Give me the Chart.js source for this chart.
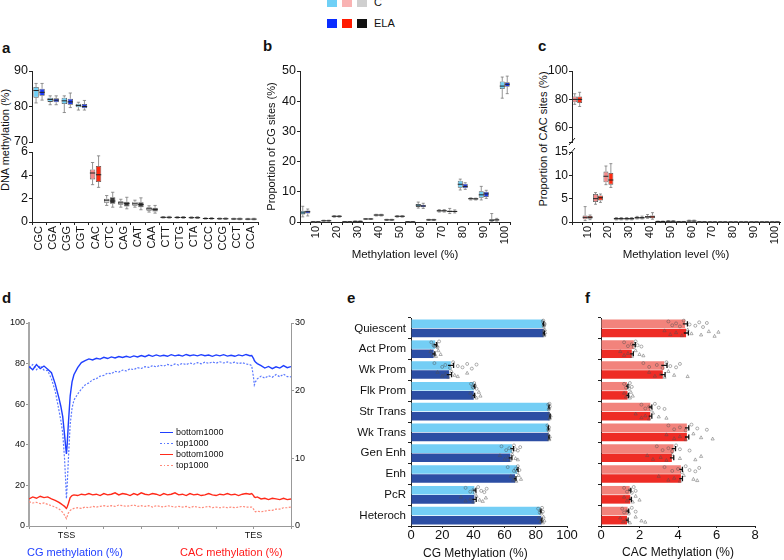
<!DOCTYPE html>
<html lang="en">
<head>
<meta charset="UTF-8">
<title>DNA methylation figure</title>
<script src="https://cdn.jsdelivr.net/npm/chart.js"></script>
<style>
  body { margin: 0; width: 784px; height: 560px; position: relative; overflow: hidden; background: #fff;
         font-family: "Liberation Sans", Arial, sans-serif; color: #111; }
  canvas { position: absolute; }
  .letter { position: absolute; font-weight: bold; font-size: 15px; line-height: 15px; }
  .vt { position: absolute; transform: translate(-50%, -50%) rotate(-90deg); white-space: nowrap; font-size: 11px; }
  .txt { position: absolute; white-space: nowrap; }
  .key { position: absolute; width: 10px; height: 9px; }
  .dl { position: absolute; left: 160px; font-size: 9px; line-height: 11px; height: 11px; white-space: nowrap; }
  .dl span { display: inline-block; width: 13px; height: 1.5px; vertical-align: middle; margin-right: 3px; }
</style>
</head>
<body>

<!-- legend C / ELA -->
<div class="key" style="left:327px;top:-2px;background:#6fd0f6"></div>
<div class="key" style="left:342px;top:-2px;background:#f9b3b3"></div>
<div class="key" style="left:357px;top:-2px;background:#cfcfcf"></div>
<div class="txt" style="left:374px;top:-4px;font-size:11px">C</div>
<div class="key" style="left:327px;top:19px;background:#0a2cff"></div>
<div class="key" style="left:342px;top:19px;background:#ff1a00"></div>
<div class="key" style="left:357px;top:19px;background:#111"></div>
<div class="txt" style="left:374px;top:17px;font-size:11px">ELA</div>

<div class="letter" style="left:2px;top:40px">a</div>
<div class="letter" style="left:263px;top:38px">b</div>
<div class="letter" style="left:538px;top:38px">c</div>
<div class="letter" style="left:2px;top:290px">d</div>
<div class="letter" style="left:347px;top:290px">e</div>
<div class="letter" style="left:585px;top:290px">f</div>

<div class="vt" style="left:5px;top:140px">DNA methylation (%)</div>
<div class="vt" style="left:543px;top:139px">Proportion of CAC sites (%)</div>

<canvas id="aTop" width="262" height="88" style="left:0;top:60px"></canvas>
<canvas id="aBot" width="262" height="118" style="left:0;top:146px"></canvas>
<canvas id="bChart" width="255" height="204" style="left:262px;top:60px"></canvas>
<canvas id="cTop" width="244" height="88" style="left:540px;top:60px"></canvas>
<canvas id="cBot" width="244" height="132" style="left:540px;top:132px"></canvas>
<canvas id="dChart" width="320" height="260" style="left:0;top:300px"></canvas>
<canvas id="eChart" width="238" height="260" style="left:340px;top:300px"></canvas>
<canvas id="fChart" width="194" height="260" style="left:590px;top:300px"></canvas>

<div class="dl" style="top:427px"><span style="background:#1f3fff"></span>bottom1000</div>
<div class="dl" style="top:438px"><span style="background:repeating-linear-gradient(90deg,#5a78ff 0 2px,transparent 2px 3.5px)"></span>top1000</div>
<div class="dl" style="top:449px"><span style="background:#ff2a1a"></span>bottom1000</div>
<div class="dl" style="top:460px"><span style="background:repeating-linear-gradient(90deg,#ff8a7a 0 2px,transparent 2px 3.5px)"></span>top1000</div>
<div class="txt" style="left:27px;top:546px;font-size:11px;color:#1f3fff">CG methylation (%)</div>
<div class="txt" style="left:180px;top:546px;font-size:11px;color:#ff1a1a">CAC methylation (%)</div>
<div class="txt" style="left:423px;top:546px;font-size:12px">CG Methylation (%)</div>

<script>
// ---------- panel a: methylation by trinucleotide context ----------
const aCats = ['CGC','CGA','CGG','CGT','CAC','CTC','CAG','CAT','CAA','CTT','CTG','CTA','CCC','CCG','CCT','CCA'];
const aGroup = ['CG','CG','CG','CG','CAC','CH','CH','CH','CH','CH','CH','CH','CH','CH','CH','CH'];
const aCQ1  = [82.5, 81.3, 80.7, 79.8, 3.65, 1.64, 1.47, 1.39, 0.96, 0.37, 0.36, 0.34, 0.27, 0.25, 0.23, 0.22];
const aCQ3  = [85.5, 82.5, 82.5, 80.8, 4.5, 2.0, 1.78, 1.73, 1.27, 0.44, 0.43, 0.41, 0.33, 0.31, 0.29, 0.28];
const aCMed = [84.5, 82.0, 81.6, 80.3, 4.2, 1.87, 1.64, 1.56, 1.13, 0.4, 0.39, 0.37, 0.3, 0.28, 0.26, 0.25];
const aCLo  = [81.0, 80.5, 78.3, 79.0, 3.2, 1.42, 1.27, 1.27, 0.85, 0.34, 0.33, 0.31, 0.25, 0.23, 0.21, 0.2];
const aCHi  = [86.5, 83.0, 83.0, 81.2, 5.1, 2.27, 1.95, 1.87, 1.39, 0.47, 0.46, 0.44, 0.36, 0.34, 0.32, 0.31];
const aEQ1  = [83.0, 81.2, 80.5, 79.5, 3.43, 1.56, 1.33, 1.27, 0.9, 0.36, 0.35, 0.33, 0.26, 0.24, 0.22, 0.21];
const aEQ3  = [85.0, 82.3, 82.2, 80.7, 4.8, 2.12, 1.73, 1.7, 1.22, 0.44, 0.43, 0.41, 0.33, 0.31, 0.29, 0.28];
const aEMed = [84.0, 81.8, 81.3, 80.0, 4.05, 1.8, 1.59, 1.5, 1.08, 0.4, 0.39, 0.37, 0.3, 0.28, 0.26, 0.25];
const aELo  = [81.8, 80.5, 79.7, 79.0, 2.97, 1.27, 1.13, 1.05, 0.76, 0.33, 0.32, 0.3, 0.24, 0.22, 0.2, 0.19];
const aEHi  = [86.5, 83.0, 83.8, 81.7, 5.67, 2.55, 2.12, 2.07, 1.42, 0.48, 0.47, 0.45, 0.37, 0.35, 0.33, 0.32];
const aTopTicks = [70, 80, 90];
const aBotTicks = [0, 2, 4, 6];

// ---------- panels b, c: distribution of methylation levels (5% bins) ----------
const bins = ['5','10','15','20','25','30','35','40','45','50','55','60','65','70','75','80','85','90','95','100'];
const bCQ1  = [2.5, 0.03, 0.3, 1.75, 0.05, 0.15, 0.9, 2.15, 0.6, 1.75, 0.05, 5.0, 0.6, 3.5, 3.2, 11.3, 7.5, 8.0, 0.3, 44.0];
const bCQ3  = [3.7, 0.08, 0.5, 2.0, 0.12, 0.28, 1.1, 2.45, 0.8, 2.0, 0.1, 6.0, 0.8, 3.9, 3.8, 13.7, 7.9, 10.2, 0.9, 46.5];
const bCMed = [3.0, 0.05, 0.4, 1.9, 0.08, 0.2, 1.0, 2.3, 0.7, 1.9, 0.07, 5.6, 0.7, 3.7, 3.5, 12.5, 7.7, 9.0, 0.6, 45.0];
const bCLo  = [1.7, 0.02, 0.25, 1.6, 0.03, 0.1, 0.85, 2.0, 0.5, 1.6, 0.03, 4.6, 0.5, 3.3, 2.8, 10.6, 7.3, 7.3, 0.1, 41.0];
const bCHi  = [5.2, 0.1, 0.6, 2.1, 0.15, 0.35, 1.15, 2.55, 0.9, 2.1, 0.14, 6.6, 0.9, 4.1, 4.5, 14.2, 8.0, 11.8, 2.8, 48.0];
const bEQ1  = [2.8, 0.03, 0.3, 1.75, 0.05, 0.15, 0.9, 2.15, 0.6, 1.75, 0.05, 4.9, 0.6, 3.5, 3.3, 11.2, 7.45, 8.3, 0.5, 44.8];
const bEQ3  = [3.8, 0.08, 0.5, 2.0, 0.12, 0.28, 1.1, 2.45, 0.8, 2.0, 0.1, 5.7, 0.8, 3.9, 3.7, 12.7, 7.85, 10.0, 0.9, 46.3];
const bEMed = [3.4, 0.05, 0.4, 1.9, 0.08, 0.2, 1.0, 2.3, 0.7, 1.9, 0.07, 5.3, 0.7, 3.7, 3.5, 11.8, 7.65, 9.3, 0.7, 45.6];
const bELo  = [2.0, 0.02, 0.25, 1.6, 0.03, 0.1, 0.85, 2.0, 0.5, 1.6, 0.03, 4.5, 0.5, 3.3, 3.0, 10.8, 7.3, 7.8, 0.3, 42.5];
const bEHi  = [4.3, 0.1, 0.6, 2.1, 0.15, 0.35, 1.15, 2.55, 0.9, 2.1, 0.14, 6.2, 0.9, 4.1, 4.0, 13.0, 7.9, 10.5, 1.2, 48.3];
const bTicks = [0, 10, 20, 30, 40, 50];

const cCQ1  = [78, 0.6, 4.3, 8.5, 0.55, 0.55, 0.75, 0.9, 0.05, 0.1, 0.02, 0.12, 0.01, 0.01, 0.01, 0, 0, 0, 0, 0];
const cCQ3  = [82, 1.4, 6.0, 10.8, 0.85, 0.85, 1.05, 1.3, 0.15, 0.2, 0.08, 0.28, 0.05, 0.03, 0.03, 0.02, 0.02, 0.02, 0.02, 0.02];
const cCMed = [80, 1.0, 5.0, 9.8, 0.7, 0.7, 0.9, 1.1, 0.1, 0.15, 0.05, 0.2, 0.03, 0.02, 0.02, 0.01, 0.01, 0.01, 0.01, 0.01];
const cCLo  = [76.5, 0.3, 3.8, 8.0, 0.45, 0.45, 0.65, 0.8, 0.02, 0.05, 0.01, 0.05, 0, 0, 0, 0, 0, 0, 0, 0];
const cCHi  = [84, 3.3, 6.3, 12.0, 0.95, 0.95, 1.2, 1.6, 0.2, 0.3, 0.12, 0.4, 0.08, 0.05, 0.05, 0.03, 0.03, 0.03, 0.03, 0.03];
const cEQ1  = [77.5, 0.7, 4.6, 8.0, 0.55, 0.55, 0.75, 0.8, 0.05, 0.1, 0.02, 0.12, 0.01, 0.01, 0.01, 0, 0, 0, 0, 0];
const cEQ3  = [82, 1.3, 5.7, 10.5, 0.85, 0.85, 1.05, 1.4, 0.15, 0.2, 0.08, 0.28, 0.05, 0.03, 0.03, 0.02, 0.02, 0.02, 0.02, 0.02];
const cEMed = [80, 1.0, 5.2, 9.0, 0.7, 0.7, 0.9, 1.1, 0.1, 0.15, 0.05, 0.2, 0.03, 0.02, 0.02, 0.01, 0.01, 0.01, 0.01, 0.01];
const cELo  = [75, 0.5, 4.2, 7.4, 0.45, 0.45, 0.65, 0.6, 0.02, 0.05, 0.01, 0.05, 0, 0, 0, 0, 0, 0, 0, 0];
const cEHi  = [85, 1.5, 6.0, 12.5, 0.95, 0.95, 1.25, 2.0, 0.2, 0.3, 0.12, 0.4, 0.08, 0.05, 0.05, 0.03, 0.03, 0.03, 0.03, 0.03];
const cTopTicks = [60, 80, 100];
const cBotTicks = [0, 5, 10, 15];

// ---------- panel d: metagene profile ----------
const dX = [0, 0.1, 0.2, 0.3, 0.4, 0.5, 0.6, 0.7, 0.8, 0.85, 0.9, 0.95, 0.98, 1.0, 1.02, 1.05, 1.1, 1.15, 1.2,
  1.3, 1.4, 1.5, 1.6, 1.7, 1.8, 1.9, 2.0, 2.1, 2.2, 2.3, 2.4, 2.5, 2.6, 2.7, 2.8, 2.9, 3.0, 3.1, 3.2, 3.3, 3.4, 3.5,
  3.6, 3.7, 3.8, 3.9, 4.0, 4.1, 4.2, 4.3, 4.4, 4.5, 4.6, 4.7, 4.8, 4.9, 5.0, 5.1, 5.2, 5.3, 5.4, 5.5, 5.6, 5.7, 5.8, 5.9,
  5.95, 6.0, 6.02, 6.05, 6.1, 6.2, 6.3, 6.4, 6.5, 6.6, 6.7, 6.8, 6.9, 7.0];
const dCGBottom = [78.5, 77, 79.5, 77.5, 78.8, 77.2, 75.5, 70, 63, 59, 54, 45, 39, 35.5, 40, 50, 64, 71, 74.5,
  78, 80.5, 81.5, 82.3, 81.8, 82.6, 82.2, 83.1, 82.5, 83.3, 82.8, 83.5, 83, 83.6, 83.1, 83.8, 83.3, 84, 83.4, 84.2, 83.6,
  84.3, 83.7, 84.1, 83.6, 84.4, 83.8, 84.2, 83.7, 84.5, 83.9, 84.3, 83.8, 84.4, 83.9, 84.2, 83.6, 84.3, 83.8, 84.4, 83.7,
  84.1, 83.6, 84.3, 83.8, 84.5, 83.9,
  84, 82.5, 81.5, 80.8, 80, 79, 77.8, 78.6, 77.5, 78.4, 77.8, 79, 78, 78.5];
const dCGTop = [78, 79.5, 77, 79, 76.8, 76.5, 72.5, 66.5, 57, 52, 46, 33, 22, 13.5, 20, 32, 50, 58, 62,
  65, 67.5, 69.5, 70.5, 72, 72.6, 73.8, 74.2, 75.3, 75, 76.2, 75.8, 76.8, 76.4, 77.5, 77, 78, 77.6, 78.5, 78.1, 79,
  78.4, 79.2, 78.8, 79.6, 79, 79.8, 79.3, 80.1, 79.5, 80.3, 79.7, 80.5, 79.9, 80.7, 80.1, 80.8, 80.2, 80.9, 80.3, 80.8,
  80.2, 80.7, 80, 80.5, 79.8, 79.5,
  79, 73, 69.5, 71, 72.5, 73.8, 72.8, 74, 73.3, 74.6, 73.5, 74.8, 73.6, 73.5];
const dCACBottom = [4.0, 4.3, 4.1, 4.4, 4.2, 4.3, 4.0, 3.8, 3.5, 3.3, 3.1, 2.9, 2.7, 2.6, 2.8, 3.3, 4.2, 4.5, 4.6,
  4.5, 4.7, 4.6, 4.8, 4.6, 4.7, 4.5, 4.8, 4.6, 4.7, 4.9, 4.6, 4.8, 4.7, 4.5, 4.8, 4.6, 4.9, 4.7, 4.6,
  4.8, 4.7, 4.5, 4.8, 4.6, 4.7, 4.9, 4.6, 4.7, 4.5, 4.8, 4.6, 4.7, 4.5, 4.6, 4.8, 4.6, 4.5, 4.7, 4.6,
  4.8, 4.6, 4.7, 4.5, 4.7, 4.8, 4.7,
  4.8, 4.5, 4.3, 4.2, 4.3, 4.0, 4.1, 3.9, 4.1, 4.0, 3.9, 4.1, 3.9, 4.0];
const dCACTop = [3.6, 3.4, 3.5, 3.3, 3.4, 3.2, 3.0, 2.8, 2.5, 2.3, 2.0, 1.6, 1.3, 1.1, 1.4, 1.9, 2.3, 2.5, 2.6,
  2.7, 2.6, 2.8, 2.7, 2.9, 2.8, 2.9, 3.0, 2.9, 3.0, 2.9, 3.1, 3.0, 2.9, 3.0, 3.1, 2.9, 3.0, 2.9, 3.0,
  2.8, 3.0, 2.9, 2.8, 3.0, 2.9, 2.8, 2.9, 2.8, 2.9, 2.7, 2.9, 2.8, 2.7, 2.8, 2.9, 2.7, 2.8, 2.7, 2.8,
  2.7, 2.8, 2.7, 2.8, 2.9, 2.8, 2.8,
  2.8, 2.5, 2.2, 2.1, 2.2, 2.1, 2.2, 2.3, 2.3, 2.5, 2.5, 2.7, 2.7, 2.8];
const dMarks = [1, 6];
const dMarkNames = ['TSS', 'TES'];
const dLeftTicks = [0, 20, 40, 60, 80, 100];
const dRightTicks = [0, 10, 20, 30];

// ---------- panels e, f: chromatin states ----------
const states = ['Quiescent','Act Prom','Wk Prom','Flk Prom','Str Trans','Wk Trans','Gen Enh','Enh','PcR','Heteroch'];
const eC    = [84.5, 15.5, 25.5, 40.3, 88.2, 87.8, 64.7, 68, 40.6, 82.9];
const eELA  = [85, 14.5, 24.5, 40.2, 88.9, 88.2, 63.7, 66.7, 40.6, 83.5];
const eCErr = [0.5, 1.0, 1.8, 0.6, 0.3, 0.3, 1.0, 0.6, 1.0, 0.4];
const eEErr = [0.5, 0.8, 1.5, 0.6, 0.3, 0.3, 1.0, 0.6, 1.2, 0.4];
const eCDots = [[84.5, 85, 85.5, 85.2, 84.8, 85.6], [13, 15, 16, 17, 18, 14.5, 16.5], [15, 20, 22, 25, 27, 30, 33, 36, 39, 42],
  [38.5, 40, 41, 42, 40.5, 39.5], [88, 88.5, 89, 88.3, 88.8], [87.5, 88, 88.5, 88.2], [58, 61, 63, 65, 66, 67, 68.5, 70],
  [62, 66, 67, 68, 68.5, 69.5], [35, 38, 40, 41, 43, 45, 47, 48.5], [81.5, 82.5, 83, 83.5, 84, 84.5]];
const eEDots = [[85, 85.5, 86, 85.3, 85.8, 85.1], [12.5, 14, 15, 16, 17.5, 19], [17, 20, 22, 24, 26, 28, 30, 36],
  [38, 39.5, 40.5, 42, 43.5, 44.5], [88.5, 89, 89.5, 88.8], [88, 88.5, 89, 88.6], [57, 60, 62, 63.5, 65, 67, 68.5],
  [64, 65.5, 66.5, 67.5, 69, 70.5], [32, 35, 38, 40, 42, 44, 46, 48], [82, 83, 84, 84.5, 85, 85.5]];
const eTicks = [0, 20, 40, 60, 80, 100];

const fC    = [4.37, 1.7, 3.28, 1.35, 2.56, 4.46, 3.77, 4.15, 1.49, 1.38];
const fELA  = [4.42, 1.6, 3.21, 1.38, 2.56, 4.46, 3.68, 4.15, 1.52, 1.35];
const fCErr = [0.12, 0.08, 0.15, 0.05, 0.08, 0.1, 0.1, 0.08, 0.06, 0.06];
const fEErr = [0.12, 0.08, 0.12, 0.05, 0.08, 0.1, 0.1, 0.08, 0.06, 0.06];
const fCDots = [[3.5, 3.7, 3.9, 4.1, 4.3, 4.6, 4.9, 5.1, 5.3, 5.5], [1.2, 1.4, 1.6, 1.7, 1.8, 1.9, 2.1],
  [2.2, 2.5, 2.9, 3.2, 3.4, 3.6, 3.9, 4.1], [1.2, 1.3, 1.4, 1.45, 1.5, 1.6], [2.1, 2.3, 2.5, 2.6, 2.8, 3.0, 3.3],
  [3.5, 3.8, 4.1, 4.4, 4.7, 5.0, 5.5], [2.9, 3.2, 3.5, 3.7, 3.9, 4.1, 4.6], [3.3, 3.7, 4.0, 4.2, 4.4, 4.6, 4.9, 5.1],
  [1.2, 1.35, 1.5, 1.6, 1.7, 1.8], [1.1, 1.2, 1.35, 1.45, 1.6, 1.8]];
const fEDots = [[3.3, 3.6, 3.9, 4.2, 4.5, 4.7, 5.2, 5.6, 5.9, 6.1], [1.0, 1.2, 1.4, 1.6, 1.8, 2.0, 2.2],
  [2.5, 2.8, 3.1, 3.3, 3.5, 3.8, 4.5], [1.2, 1.3, 1.4, 1.5, 1.55, 1.65], [1.8, 2.1, 2.3, 2.5, 2.7, 3.0, 3.4],
  [3.4, 3.8, 4.1, 4.4, 4.8, 5.2, 5.8], [2.4, 2.7, 3.1, 3.4, 3.7, 4.1, 4.9, 5.2], [3.0, 3.5, 3.8, 4.1, 4.3, 4.8, 5.0],
  [1.2, 1.35, 1.5, 1.65, 1.8, 2.0], [1.0, 1.15, 1.3, 1.5, 1.8, 2.1, 2.3]];
const fTicks = [0, 2, 4, 6, 8];

// ---------- shared setup ----------
Chart.defaults.font.family = '"Liberation Sans", Arial, sans-serif';
Chart.defaults.color = '#111';
Chart.defaults.animation = false;
Chart.defaults.responsive = false;
Chart.defaults.plugins.legend.display = false;
Chart.defaults.plugins.tooltip.enabled = false;

const boxColors = {
  C:   { CG: '#6fd0f6', CAC: '#f48a8a', CH: '#d8d8d8' },
  ELA: { CG: '#1c3cf5', CAC: '#ff2a10', CH: '#3a3a3a' }
};

// whiskers + median for floating-bar boxes
const boxPlugin = {
  id: 'boxes',
  afterDatasetsDraw(chart) {
    const ctx = chart.ctx;
    chart.data.datasets.forEach((ds, i) => {
      if (!ds.stats) return;
      const meta = chart.getDatasetMeta(i);
      const ys = chart.scales[meta.yAxisID];
      meta.data.forEach((bar, j) => {
        const raw = ds.data[j];
        if (!raw) return;
        const x = bar.x, w = bar.width;
        const q1 = ys.getPixelForValue(raw[0]), q3 = ys.getPixelForValue(raw[1]);
        const lo = ys.getPixelForValue(ds.stats.lo[j]), hi = ys.getPixelForValue(ds.stats.hi[j]);
        const med = ys.getPixelForValue(ds.stats.med[j]);
        ctx.save();
        ctx.strokeStyle = '#7a7a7a';
        ctx.lineWidth = 0.8;
        ctx.beginPath();
        ctx.moveTo(x, q3); ctx.lineTo(x, hi);
        ctx.moveTo(x - w * 0.3, hi); ctx.lineTo(x + w * 0.3, hi);
        ctx.moveTo(x, q1); ctx.lineTo(x, lo);
        ctx.moveTo(x - w * 0.3, lo); ctx.lineTo(x + w * 0.3, lo);
        ctx.stroke();
        ctx.strokeStyle = '#222';
        ctx.lineWidth = 1;
        ctx.beginPath();
        ctx.moveTo(x - w / 2, med); ctx.lineTo(x + w / 2, med);
        ctx.stroke();
        ctx.restore();
      });
    });
  }
};

// "/" marks where the y axis is broken: at the top of the lower part and the bottom of the upper part
const breakPlugin = {
  id: 'brk',
  afterDraw(chart, args, opts) {
    const {ctx, chartArea} = chart;
    ctx.save();
    ctx.strokeStyle = '#222';
    ctx.lineWidth = 1;
    ctx.beginPath();
    [chartArea.top, chartArea.top - (opts.gap || 10)].forEach(y => {
      ctx.moveTo(chartArea.left - 3, y + 3);
      ctx.lineTo(chartArea.left + 3, y - 4);
    });
    ctx.stroke();
    ctx.restore();
  }
};

const jitter = [-0.55, 0.35, -0.1, 0.6, -0.75, 0.15, 0.45, -0.35, 0.75, -0.2];
const dotPlugin = {
  id: 'dots',
  afterDatasetsDraw(chart) {
    const ctx = chart.ctx, xs = chart.scales.x;
    chart.data.datasets.forEach((ds, i) => {
      const meta = chart.getDatasetMeta(i);
      meta.data.forEach((bar, j) => {
        const h = bar.height;
        ctx.save();
        ctx.strokeStyle = 'rgba(80,80,80,0.75)';
        ctx.lineWidth = 0.6;
        ds.dots[j].forEach((v, k) => {
          const x = xs.getPixelForValue(v);
          const y = bar.y + jitter[k % jitter.length] * h / 2;
          ctx.beginPath();
          if (ds.marker === 'tri') {
            ctx.moveTo(x, y - 1.8); ctx.lineTo(x + 1.6, y + 1.1); ctx.lineTo(x - 1.6, y + 1.1); ctx.closePath();
          } else {
            ctx.arc(x, y, 1.5, 0, Math.PI * 2);
          }
          ctx.stroke();
        });
        const m = ds.data[j], e = ds.err[j];
        const x0 = xs.getPixelForValue(m - e), x1 = xs.getPixelForValue(m + e);
        ctx.strokeStyle = '#111';
        ctx.lineWidth = 1.3;
        ctx.beginPath();
        ctx.moveTo(x0, bar.y); ctx.lineTo(x1, bar.y);
        ctx.moveTo(x1, bar.y - h * 0.3); ctx.lineTo(x1, bar.y + h * 0.3);
        ctx.stroke();
        ctx.restore();
      });
    });
  }
};

function axis(color, size, extra) {
  return Object.assign({
    border: { display: true, color: color, width: 1 },
    grid: { drawOnChartArea: false, drawTicks: true, tickLength: 3, color: color },
    ticks: { color: '#111', font: { size: size }, padding: 1, autoSkip: false }
  }, extra || {});
}
function fixTicks(list) {
  return s => { s.ticks = list.map(v => ({ value: v })); };
}
function yFit(w) {
  return s => { s.width = w; s.paddingTop = 0; s.paddingBottom = 0; };
}
function xFit(h) {
  return s => { s.height = h; s.paddingLeft = 0; s.paddingRight = 0; };
}
function boxSet(q1, q3, med, lo, hi, keep, colors, cp, bp) {
  return {
    data: q1.map((v, i) => keep(i) ? [v, q3[i]] : null),
    stats: { med: med, lo: lo, hi: hi },
    backgroundColor: colors,
    borderColor: '#555',
    borderWidth: 0.8,
    borderSkipped: false,
    categoryPercentage: cp,
    barPercentage: bp
  };
}
const rotTicks = (cb) => ({ color: '#111', font: { size: 11 }, padding: 1, minRotation: 90, maxRotation: 90, autoSkip: false, callback: cb });

// ---------- a ----------
const aCCol = aGroup.map(g => boxColors.C[g]);
const aECol = aGroup.map(g => boxColors.ELA[g]);
const aUpper = i => aCQ1[i] >= aTopTicks[0];
const aLower = i => !aUpper(i);

new Chart('aTop', {
  type: 'bar',
  data: { labels: aCats, datasets: [
    boxSet(aCQ1, aCQ3, aCMed, aCLo, aCHi, aUpper, aCCol, 0.85, 0.9),
    boxSet(aEQ1, aEQ3, aEMed, aELo, aEHi, aUpper, aECol, 0.85, 0.9)
  ]},
  options: {
    layout: { padding: { left: 0, right: 4, top: 11, bottom: 6 } },
    scales: {
      x: { display: false },
      y: axis('#222', 12.5, { min: 70, max: 90, afterFit: yFit(32), afterBuildTicks: fixTicks(aTopTicks) })
    }
  },
  plugins: [boxPlugin]
});

new Chart('aBot', {
  type: 'bar',
  data: { labels: aCats, datasets: [
    boxSet(aCQ1, aCQ3, aCMed, aCLo, aCHi, aLower, aCCol, 0.85, 0.9),
    boxSet(aEQ1, aEQ3, aEMed, aELo, aEHi, aLower, aECol, 0.85, 0.9)
  ]},
  options: {
    layout: { padding: { left: 0, right: 4, top: 6, bottom: 2 } },
    scales: {
      x: axis('#222', 11, { afterFit: xFit(40), ticks: rotTicks((v, i) => aCats[i]) }),
      y: axis('#222', 12.5, { min: 0, max: 6, afterFit: yFit(32), afterBuildTicks: fixTicks(aBotTicks) })
    }
  },
  plugins: [boxPlugin]
});

// ---------- b ----------
const binLabel = (v, i) => (i % 2 === 1 ? bins[i] : '');
new Chart('bChart', {
  type: 'bar',
  data: { labels: bins, datasets: [
    boxSet(bCQ1, bCQ3, bCMed, bCLo, bCHi, () => true, boxColors.C.CG, 0.95, 1.0),
    boxSet(bEQ1, bEQ3, bEMed, bELo, bEHi, () => true, boxColors.ELA.CG, 0.95, 1.0)
  ]},
  options: {
    layout: { padding: { left: 0, right: 7, top: 11, bottom: 2 } },
    scales: {
      x: axis('#222', 11, { afterFit: xFit(40), ticks: rotTicks(binLabel),
        title: { display: true, text: 'Methylation level (%)', font: { size: 11.5 }, padding: 0, color: '#111' } }),
      y: axis('#222', 12.5, { min: 0, max: 50, afterFit: yFit(38), afterBuildTicks: fixTicks(bTicks),
        title: { display: true, text: 'Proportion of CG sites (%)', font: { size: 11 }, padding: { top: 3, bottom: 0 }, color: '#111' } })
    }
  },
  plugins: [boxPlugin]
});

// ---------- c ----------
const cUpper = i => cCQ1[i] >= 50;
const cLower = i => !cUpper(i);
new Chart('cTop', {
  type: 'bar',
  data: { labels: bins, datasets: [
    boxSet(cCQ1, cCQ3, cCMed, cCLo, cCHi, cUpper, boxColors.C.CAC, 0.95, 1.0),
    boxSet(cEQ1, cEQ3, cEMed, cELo, cEHi, cUpper, boxColors.ELA.CAC, 0.95, 1.0)
  ]},
  options: {
    layout: { padding: { left: 0, right: 4, top: 11, bottom: 6 } },
    scales: {
      x: { display: false },
      y: axis('#222', 12, { min: 50, max: 100, afterFit: yFit(32),
        ticks: { color: '#111', font: { size: 12 }, padding: 1, autoSkip: false, stepSize: 20,
          callback: v => (cTopTicks.includes(v) ? String(v) : '') } })
    }
  },
  plugins: [boxPlugin]
});

new Chart('cBot', {
  type: 'bar',
  data: { labels: bins, datasets: [
    boxSet(cCQ1, cCQ3, cCMed, cCLo, cCHi, cLower, boxColors.C.CAC, 0.95, 1.0),
    boxSet(cEQ1, cEQ3, cEMed, cELo, cEHi, cLower, boxColors.ELA.CAC, 0.95, 1.0)
  ]},
  options: {
    layout: { padding: { left: 0, right: 4, top: 20, bottom: 2 } },
    plugins: { brk: { gap: 10 } },
    scales: {
      x: axis('#222', 11, { afterFit: xFit(40), ticks: rotTicks(binLabel),
        title: { display: true, text: 'Methylation level (%)', font: { size: 11.5 }, padding: 0, color: '#111' } }),
      y: axis('#222', 12, { min: 0, max: 15, afterFit: yFit(32), afterBuildTicks: fixTicks(cBotTicks) })
    }
  },
  plugins: [boxPlugin, breakPlugin]
});

// ---------- d ----------
const pts = ys => dX.map((x, i) => ({ x: x, y: ys[i] }));
new Chart('dChart', {
  type: 'line',
  data: { datasets: [
    { label: 'bottom1000', data: pts(dCGBottom), yAxisID: 'y', borderColor: '#1f3fff', borderWidth: 1.4, pointRadius: 0 },
    { label: 'top1000', data: pts(dCGTop), yAxisID: 'y', borderColor: '#5a78ff', borderWidth: 1.2, borderDash: [2, 1.5], pointRadius: 0 },
    { label: 'bottom1000', data: pts(dCACBottom), yAxisID: 'y2', borderColor: '#ff2a1a', borderWidth: 1.4, pointRadius: 0 },
    { label: 'top1000', data: pts(dCACTop), yAxisID: 'y2', borderColor: '#ff8a7a', borderWidth: 1.2, borderDash: [2, 1.5], pointRadius: 0 }
  ]},
  options: {
    layout: { padding: { left: 0, right: 3, top: 23, bottom: 20 } },
    scales: {
      x: axis('#999', 9, { type: 'linear', min: 0, max: 7, afterFit: xFit(14),
        afterBuildTicks: fixTicks([0, 1, 2, 3, 4, 5, 6, 7]),
        ticks: { color: '#111', font: { size: 9 }, padding: 1, maxRotation: 0, autoSkip: false,
          callback: v => { const k = dMarks.indexOf(v); return k >= 0 ? dMarkNames[k] : ''; } } }),
      y: axis('#999', 9, { position: 'left', min: 0, max: 100, afterFit: yFit(29), afterBuildTicks: fixTicks(dLeftTicks),
        border: { display: true, color: '#a8a8a8', width: 2 } }),
      y2: axis('#999', 9, { position: 'right', min: 0, max: 30, afterFit: yFit(26), afterBuildTicks: fixTicks(dRightTicks) })
    }
  }
});

// ---------- e ----------
new Chart('eChart', {
  type: 'bar',
  data: { labels: states, datasets: [
    { data: eC, err: eCErr, dots: eCDots, marker: 'circle', backgroundColor: '#74cef5', categoryPercentage: 0.88, barPercentage: 0.93 },
    { data: eELA, err: eEErr, dots: eEDots, marker: 'tri', backgroundColor: '#2c4ea4', categoryPercentage: 0.88, barPercentage: 0.93 }
  ]},
  options: {
    indexAxis: 'y',
    layout: { padding: { left: 0, right: 11, top: 18, bottom: 0 } },
    scales: {
      x: axis('#222', 13, { min: 0, max: 100, afterFit: xFit(34), afterBuildTicks: fixTicks(eTicks),
        grid: { drawOnChartArea: false, tickLength: 2, color: '#222' },
        ticks: { color: '#111', font: { size: 13 }, padding: 0 } }),
      y: axis('#222', 11.5, { afterFit: yFit(71),
        ticks: { color: '#111', font: { size: 11.5 }, padding: 2, autoSkip: false } })
    }
  },
  plugins: [dotPlugin]
});

// ---------- f ----------
new Chart('fChart', {
  type: 'bar',
  data: { labels: states, datasets: [
    { data: fC, err: fCErr, dots: fCDots, marker: 'circle', backgroundColor: '#f2837c', categoryPercentage: 0.88, barPercentage: 0.93 },
    { data: fELA, err: fEErr, dots: fEDots, marker: 'tri', backgroundColor: '#ee2c25', categoryPercentage: 0.88, barPercentage: 0.93 }
  ]},
  options: {
    indexAxis: 'y',
    layout: { padding: { left: 0, right: 29, top: 18, bottom: 0 } },
    scales: {
      x: axis('#222', 13, { min: 0, max: 8, afterFit: xFit(34), afterBuildTicks: fixTicks(fTicks),
        grid: { drawOnChartArea: false, tickLength: 2, color: '#222' },
        ticks: { color: '#111', font: { size: 13 }, padding: 0 },
        title: { display: true, text: 'CAC Methylation (%)', font: { size: 12 }, padding: 0, color: '#111' } }),
      y: axis('#222', 11, { afterFit: yFit(11), ticks: { display: false } })
    }
  },
  plugins: [dotPlugin]
});
</script>
</body>
</html>
